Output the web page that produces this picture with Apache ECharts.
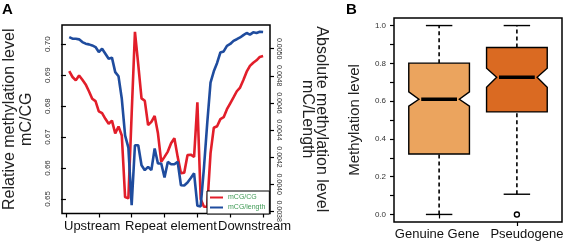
<!DOCTYPE html>
<html><head><meta charset="utf-8">
<script src="https://cdn.jsdelivr.net/npm/echarts@6/dist/echarts.min.js"></script>
<style>html,body{margin:0;padding:0;background:#fff}#c{width:567px;height:246px}</style>
</head><body><div id="c"></div>
<script>
// ---------- Panel A data ----------
const binIndex = [1,2,3,4,5,6,7,8,9,10,11,12,13,14,15,16,17,18,19,20,21,22,23,24,25,26,27,28,29,30,31,32,33,34,35,36,37,38,39,40,41,42,43,44,45,46,47,48,49,50,51,52,53,54,55,56,57,58,59,60];
const mcgPerCG = [0.6913,0.6894,0.6883,0.6899,0.6885,0.6870,0.6848,0.6824,0.6816,0.6783,0.6777,0.6759,0.6743,0.6753,0.6712,0.6734,0.6705,0.6506,0.6502,0.6775,
  0.7040,0.6935,0.6825,0.6817,0.6739,0.6749,0.6768,0.6712,0.6620,0.6636,0.6653,0.6680,0.6696,0.6636,0.6583,0.6585,0.6642,0.6643,0.6636,0.6812,
  0.6500,0.6475,0.6475,0.6647,0.6730,0.6735,0.6758,0.6764,0.6790,0.6809,0.6828,0.6848,0.6860,0.6884,0.6911,0.6930,0.6940,0.6948,0.6959,0.6962];
const mcgPerLength = [0.005086,0.005074,0.005074,0.005069,0.005049,0.005037,0.005032,0.005024,0.005012,0.004975,0.005000,0.004963,0.004926,0.004934,0.004827,0.004796,0.004630,0.004360,0.004270,0.003844,
  0.004287,0.004287,0.004139,0.004103,0.004127,0.004103,0.004263,0.004152,0.004152,0.004049,0.004164,0.004147,0.004147,0.004164,0.003992,0.003990,0.004012,0.004045,0.004080,0.003840,
  0.003835,0.004120,0.004450,0.004750,0.004833,0.004895,0.004972,0.004980,0.005021,0.005035,0.005058,0.005070,0.005083,0.005100,0.005116,0.005104,0.005121,0.005116,0.005125,0.005123];
const seriesNamesA = ['mCG/CG','mCG/length'];
const leftTicksA = [0.65,0.66,0.67,0.68,0.69,0.70];
const rightTicksA = [0.0038,0.0040,0.0042,0.0044,0.0046,0.0048,0.0050];
const xTicksA = [0,10,20,30,40,50,60];
const regionLabels = ['Upstream','Repeat element','Downstream'];

// ---------- Panel B data ----------
const categoriesB = ['Genuine Gene','Pseudogene'];
const categoryPosB = [1, 2];
const whiskerLow = [0.0, 0.107];
const quartile1 = [0.320, 0.543];
const notchLow = [0.573, 0.673];
const medianB = [0.610, 0.726];
const notchHigh = [0.649, 0.774];
const quartile3 = [0.801, 0.884];
const whiskerHigh = [1.0, 1.0];
const outliersB = [[2, 0.0]];
const yLabelTicksB = [0,0.2,0.4,0.6,0.8,1.0];
const yTicksB = [0,0.1,0.2,0.3,0.4,0.5,0.6,0.7,0.8,0.9,1.0];

const FONT = 'Liberation Sans, Arial, sans-serif';
const boxColors = ['#EBA45E','#DA6A22'];
const catLabelPadding = [[0,4,0,0],[0,0,0,20]];

const chart = echarts.init(document.getElementById('c'), null, {renderer:'canvas'});

const boxData = categoriesB.map((c,i)=>[categoryPosB[i], whiskerLow[i], quartile1[i], notchLow[i], medianB[i], notchHigh[i], quartile3[i], whiskerHigh[i]]);

function renderBox(params, api){
  const x = api.value(0);
  const lo = api.value(1), b1 = api.value(2), nl = api.value(3), md = api.value(4), nh = api.value(5), b3 = api.value(6), hi = api.value(7);
  const hw = 0.39, nw = 0.26, cw = 0.17, mw = 0.23;
  const P = (dx, v) => api.coord([x + dx, v]);
  const poly = [P(-hw,b1), P(hw,b1), P(hw,nl), P(nw,md), P(hw,nh), P(hw,b3), P(-hw,b3), P(-hw,nh), P(-nw,md), P(-hw,nl)];
  const dash = {stroke:'#000', lineWidth:1.6, lineDash:[4,3]};
  const solid = {stroke:'#000', lineWidth:1.4};
  const ln = (a,b,st)=>({type:'line', shape:{x1:a[0],y1:a[1],x2:b[0],y2:b[1]}, style:st});
  return {type:'group', children:[
    ln(P(0,lo), P(0,b1), dash),
    ln(P(0,b3), P(0,hi), dash),
    ln(P(-cw,lo), P(cw,lo), solid),
    ln(P(-cw,hi), P(cw,hi), solid),
    {type:'polygon', shape:{points:poly}, style:{fill:boxColors[params.dataIndex], stroke:'#000', lineWidth:1.4}},
    ln(P(-mw,md), P(mw,md), {stroke:'#000', lineWidth:3.6})
  ]};
}

function catAxis(idx){
  return {gridIndex:1, type:'value', min:0.42, max:2.58, position:'bottom',
    axisLine:{show:false}, splitLine:{show:false},
    axisTick:{show:true, customValues:[categoryPosB[idx]], length:4, lineStyle:{color:'#000', width:1.2}},
    axisLabel:{show:true, customValues:[categoryPosB[idx]], margin:6, fontSize:13, color:'#111', fontFamily:FONT,
      padding:catLabelPadding[idx], formatter:()=>categoriesB[idx]}};
}

const option = {
  animation:false,
  textStyle:{fontFamily:FONT},
  grid:[
    {left:59, right:297, top:25, bottom:32.5, show:true, borderColor:'#000', borderWidth:1.5, backgroundColor:'transparent'},
    {left:394, right:5, top:18, bottom:24, show:true, borderColor:'#000', borderWidth:1.5, backgroundColor:'transparent'}
  ],
  legend:{
    left:207, top:191, orient:'vertical', itemWidth:13, itemHeight:2, itemGap:3,
    padding:[3,4,3,3], borderColor:'#000', borderWidth:1, backgroundColor:'#fff',
    textStyle:{fontSize:7, color:'#3f9a55', fontFamily:FONT},
    data:[{name:seriesNamesA[0], icon:'rect'},{name:seriesNamesA[1], icon:'rect'}]
  },
  xAxis:[
    {gridIndex:0, type:'value', min:-1.2, max:62.1,
     axisLine:{show:false}, splitLine:{show:false},
     axisTick:{show:true, customValues:xTicksA, length:4, lineStyle:{color:'#000', width:1.2}},
     axisLabel:{show:false}},
    catAxis(0),
    catAxis(1)
  ],
  yAxis:[
    {gridIndex:0, type:'value', position:'left', min:0.6453, max:0.7062,
     axisLine:{show:false}, splitLine:{show:false},
     axisTick:{show:true, customValues:leftTicksA, length:5, lineStyle:{color:'#000', width:1.2}},
     axisLabel:{show:true, customValues:leftTicksA, rotate:90, margin:10, fontSize:8, color:'#333', fontFamily:FONT,
       formatter:v=>v.toFixed(2)},
     name:'Relative methylation level\nmC/CG', nameLocation:'middle', nameRotate:90, nameGap:27,
     nameTextStyle:{fontSize:16, color:'#222', lineHeight:17, fontFamily:FONT}},
    {gridIndex:0, type:'value', position:'right', min:0.003783, max:0.005175,
     axisLine:{show:false}, splitLine:{show:false},
     axisTick:{show:true, customValues:rightTicksA, length:4, lineStyle:{color:'#000', width:1.2}},
     axisLabel:{show:true, customValues:rightTicksA, rotate:-90, margin:5, fontSize:7, color:'#333', fontFamily:FONT,
       formatter:v=>v.toFixed(4)},
     name:'Absolute methylation level\nmC/Length', nameLocation:'middle', nameRotate:-90, nameGap:30,
     nameTextStyle:{fontSize:16, color:'#222', lineHeight:14, fontFamily:FONT}},
    {gridIndex:1, type:'value', min:-0.04, max:1.04,
     axisLine:{show:false}, splitLine:{show:false},
     axisTick:{show:true, customValues:yTicksB, length:4, lineStyle:{color:'#000', width:1.2}},
     axisLabel:{show:true, customValues:yLabelTicksB, margin:8, fontSize:8, color:'#333', fontFamily:FONT,
       formatter:v=>v.toFixed(1)},
     name:'Methylation level', nameLocation:'middle', nameRotate:90, nameGap:32,
     nameTextStyle:{fontSize:15, color:'#222', fontFamily:FONT}}
  ],
  series:[
    {name:seriesNamesA[0], type:'line', xAxisIndex:0, yAxisIndex:0, symbol:'none',
     color:'#E21E2A', lineStyle:{width:2.6, color:'#E21E2A'},
     data:binIndex.map((x,i)=>[x, mcgPerCG[i]])},
    {name:seriesNamesA[1], type:'line', xAxisIndex:0, yAxisIndex:1, symbol:'none',
     color:'#1F4C9E', lineStyle:{width:2.6, color:'#1F4C9E'},
     data:binIndex.map((x,i)=>[x, mcgPerLength[i]])},
    {type:'custom', xAxisIndex:1, yAxisIndex:2, renderItem:renderBox,
     encode:{x:0, y:[1,2,3,4,5,6,7]}, data:boxData, z:2},
    {type:'scatter', xAxisIndex:1, yAxisIndex:2, symbol:'circle', symbolSize:5, clip:false,
     itemStyle:{color:'#ffffff', borderColor:'#000000', borderWidth:1.4, opacity:1}, data:outliersB, z:5}
  ],
  graphic:[
    {type:'text', left:2, top:2, style:{text:'A', font:'bold 15px '+FONT, fill:'#000'}},
    {type:'text', left:346, top:2, style:{text:'B', font:'bold 15px '+FONT, fill:'#000'}},
    {type:'text', left:64, top:220, style:{text:regionLabels[0], font:'13px '+FONT, fill:'#111'}},
    {type:'text', left:125, top:220, style:{text:regionLabels[1], font:'13px '+FONT, fill:'#111'}},
    {type:'text', left:218, top:220, style:{text:regionLabels[2], font:'13px '+FONT, fill:'#111'}}
  ]
};
chart.setOption(option);
</script>
</body></html>
